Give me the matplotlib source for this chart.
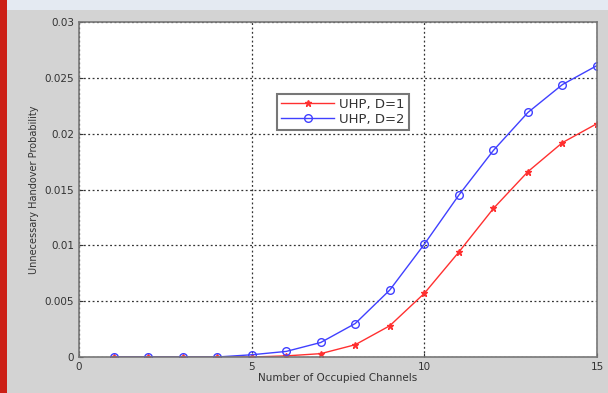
import matplotlib
matplotlib.use("Agg")
import matplotlib.pyplot as plt
from matplotlib.patches import Rectangle

channels = list(range(1, 16))
uhp_d1 = [0.0, 0.0, 0.0, 0.0, 0.0, 0.0001, 0.0003, 0.0011, 0.0028, 0.0057,
          0.0094, 0.0133, 0.0166, 0.0192, 0.0209]
uhp_d2 = [0.0, 0.0, 0.0, 0.0, 0.0002, 0.0005, 0.0013, 0.0030, 0.0060, 0.0101,
          0.0145, 0.0185, 0.0219, 0.0244, 0.0261]
xticks = [0, 5, 10, 15]
yticks = [0, 0.005, 0.01, 0.015, 0.02, 0.025, 0.03]
ytick_labels = ["0", "0.005", "0.01", "0.015", "0.02", "0.025", "0.03"]

W, H = 608, 393
fig = plt.figure(figsize=(W / 100, H / 100), dpi=100)
fig.patch.set_facecolor("#d3d3d3")
fig.patches.append(Rectangle((0, 1 - 10 / H), 1, 10 / H, transform=fig.transFigure,
                             facecolor="#e4eaf2", edgecolor="none", zorder=0))
fig.patches.append(Rectangle((0, 0), 7 / W, 1, transform=fig.transFigure,
                             facecolor="#cc1f16", edgecolor="none", zorder=0))

ax = fig.add_axes([79 / W, 1 - 357 / H, (597 - 79) / W, (357 - 22) / H])
ax.set_facecolor("white")
ax.plot(channels, uhp_d1, color="#ff3030", marker="*", markersize=5, linewidth=1,
        label="UHP, D=1")
ax.plot(channels, uhp_d2, color="#4040ff", marker="o", markersize=5.5, markerfacecolor="none",
        markeredgewidth=1, linewidth=1, label="UHP, D=2")
ax.set_xlim(0, 15)
ax.set_ylim(0, 0.03)
ax.set_xticks(xticks)
ax.set_yticks(yticks)
ax.set_yticklabels(ytick_labels)
ax.grid(True, color="#333333", linestyle=(0, (1.5, 2)), linewidth=0.9)
ax.tick_params(labelsize=7.5, colors="#333333", direction="in", length=3)
for s in ax.spines.values():
    s.set_color("#777777")
    s.set_linewidth(1.2)
ax.set_xlabel("Number of Occupied Channels", fontsize=7.5, color="#333333", labelpad=1)
ax.set_ylabel("Unnecessary Handover Probability", fontsize=7, color="#333333", labelpad=4)
leg = ax.legend(loc="upper left", bbox_to_anchor=(0.37, 0.805), fontsize=9.5,
                frameon=True, fancybox=False, borderpad=0.3, handlelength=4.0,
                labelspacing=0.15, handletextpad=0.4)
leg.get_frame().set_edgecolor("#555555")
leg.get_frame().set_linewidth(1.5)
for t in leg.get_texts():
    t.set_color("#333333")

fig.savefig("out.png", dpi=100, facecolor=fig.get_facecolor())
